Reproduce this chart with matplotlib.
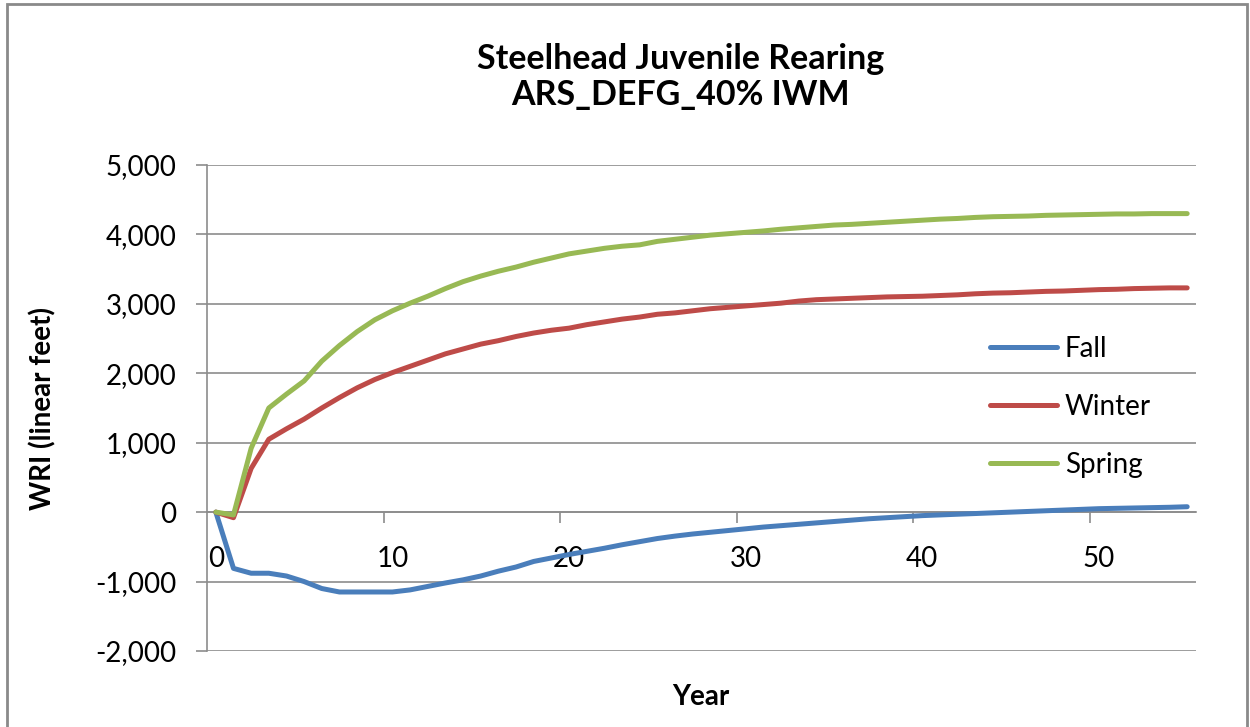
import numpy as np
import matplotlib.pyplot as plt
from matplotlib.patches import Rectangle
from matplotlib.ticker import FuncFormatter

# ---------------- data ----------------
years = list(range(56))
fall = [0, -810, -880, -880, -920, -1000, -1100, -1150, -1150, -1150,
        -1150, -1120, -1070, -1020, -975, -920, -850, -790, -710, -660,
        -610, -565, -520, -470, -425, -380, -345, -315, -290, -265,
        -240, -215, -195, -175, -155, -135, -115, -95, -80, -65,
        -50, -40, -30, -20, -10, 0, 10, 20, 30, 40,
        50, 55, 60, 65, 70, 78]
winter = [0, -80, 630, 1050, 1200, 1340, 1500, 1650, 1790, 1910,
          2010, 2100, 2190, 2280, 2350, 2420, 2470, 2530, 2580, 2620,
          2650, 2700, 2740, 2780, 2810, 2850, 2870, 2900, 2930, 2950,
          2970, 2990, 3010, 3040, 3060, 3070, 3080, 3090, 3100, 3105,
          3110, 3120, 3130, 3145, 3155, 3160, 3170, 3180, 3185, 3195,
          3205, 3210, 3220, 3225, 3230, 3230]
spring = [0, -40, 920, 1500, 1700, 1890, 2175, 2400, 2600, 2770,
          2900, 3010, 3110, 3220, 3320, 3400, 3470, 3530, 3600, 3660,
          3720, 3760, 3800, 3830, 3850, 3900, 3930, 3960, 3990, 4010,
          4030, 4050, 4075, 4095, 4115, 4135, 4145, 4160, 4175, 4190,
          4205, 4220, 4230, 4245, 4255, 4260, 4265, 4275, 4280, 4285,
          4290, 4295, 4295, 4300, 4300, 4300]
series_names = ['Fall', 'Winter', 'Spring']
colors = ['#4A7EBB', '#BE4B48', '#98B954']
title = 'Steelhead Juvenile Rearing\nARS_DEFG_40% IWM'

# ---------------- plot ----------------
plt.rcParams['font.family'] = ['Lato', 'DejaVu Sans']
grid_c = '#8c8c8c'

fig = plt.figure(figsize=(12.5, 7.27), dpi=100)
ax = fig.add_axes([207 / 1250, 1 - 651 / 727, 989 / 1250, 486 / 727])

for vals, name, c in zip([fall, winter, spring], series_names, colors):
    ax.plot(years, vals, color=c, lw=3.6, label=name,
            solid_capstyle='round', solid_joinstyle='round', zorder=3)

ax.set_xlim(-0.5, 55.5)
ax.set_ylim(-2000, 5000)
ax.set_yticks(np.arange(-2000, 5001, 1000))
ax.yaxis.set_major_formatter(FuncFormatter(lambda v, p: f'{int(v):,}'))
ax.grid(axis='y', color=grid_c, lw=1.2, zorder=0)

ax.set_xticks(np.arange(0, 51, 10))
ax.set_xticks(np.arange(9.5, 50, 10), minor=True)
ax.tick_params(axis='x', which='major', length=0, pad=24.5,
               labelsize=20, labelcolor='black')
ax.tick_params(axis='x', which='minor', length=8, width=1.2,
               color=grid_c, direction='out')
ax.tick_params(axis='y', length=8, width=1.2, color=grid_c, pad=14,
               labelsize=20, labelcolor='black')

for s in ['top', 'right']:
    ax.spines[s].set_visible(False)
ax.spines['bottom'].set_position(('data', 0))
ax.spines['bottom'].set_color(grid_c)
ax.spines['bottom'].set_linewidth(1.2)
ax.spines['left'].set_color(grid_c)
ax.spines['left'].set_linewidth(1.2)

ax.legend(loc='center left', bbox_to_anchor=(0.7917, 0.502), frameon=False,
          fontsize=20, handlelength=2.4, handletextpad=0.3,
          labelspacing=1.15, borderpad=0, borderaxespad=0)

fig.text(681 / 1250, 1 - 77 / 727, title, ha='center', va='center',
         fontsize=24.5, fontweight='bold', linespacing=1.18)
fig.text(43 / 1250, 1 - 408 / 727, 'WRI (linear feet)', ha='center',
         va='center', rotation=90, fontsize=20, fontweight='bold')
fig.text(701 / 1250, 1 - 697 / 727, 'Year', ha='center', va='center',
         fontsize=20, fontweight='bold')

fig.patches.append(Rectangle((7 / 1250, -0.02), 1240 / 1250, 1.02 - 4 / 727,
                             transform=fig.transFigure, fill=False,
                             edgecolor='#8a8a8a', lw=2))

fig.savefig('out.png', dpi=100)
